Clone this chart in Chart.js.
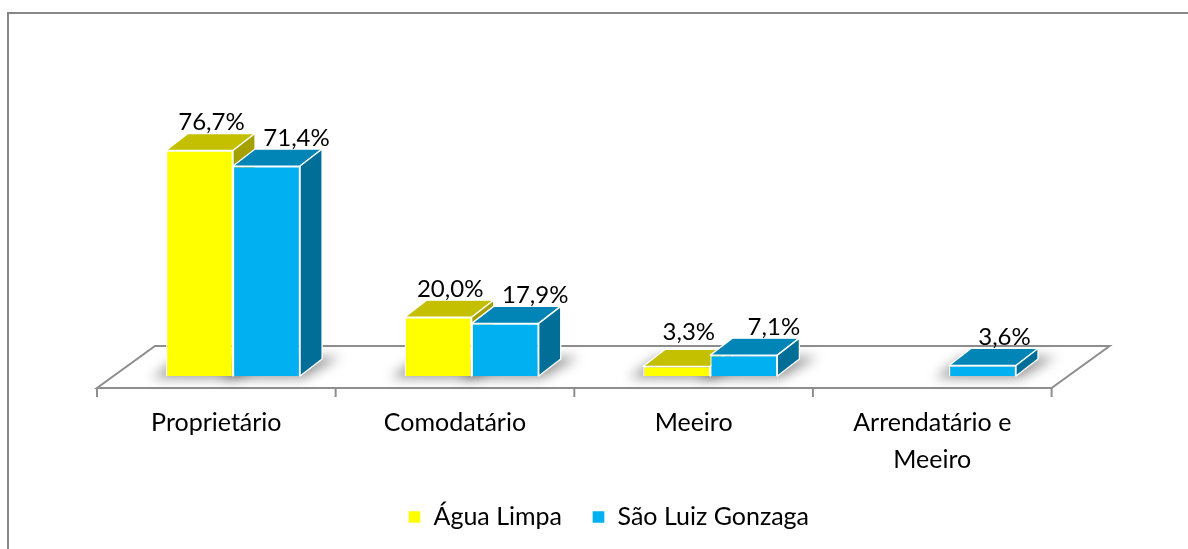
<!DOCTYPE html>
<html><head><meta charset="utf-8">
<script src="https://cdn.jsdelivr.net/npm/chart.js@4"></script>
<style>html,body{margin:0;padding:0;background:#fff;overflow:hidden}canvas{display:block}</style>
</head><body>
<canvas id="c" width="1188" height="549"></canvas>
<script>
const categories = ['Proprietário', 'Comodatário', 'Meeiro', ['Arrendatário e', 'Meeiro']];
const seriesNames = ['Água Limpa', 'São Luiz Gonzaga'];
const aguaLimpa = [76.7, 20.0, 3.3, null];
const saoLuiz = [71.4, 17.9, 7.1, 3.6];
const yMin = 0, yMax = 100;

const FONT = 'Lato';
const frontColors = ['#FFFF00', '#00B0F0'];
const topColors = ['#C4C000', '#0085B6'];
const sideColors = ['#A3A000', '#006E97'];
const DX = 22, DY = -17;          // bar depth
const FDX = 58, FDY = -42;        // floor depth
const FOFF_X = -16.7, FOFF_Y = 12; // floor front relative to bar plane

function fmt(v){ return v.toFixed(1).replace('.', ',') + '%'; }

const threeD = {
  id: 'threeD',
  beforeDraw(chart){
    const ctx = chart.ctx, a = chart.chartArea;
    ctx.save();
    ctx.fillStyle = '#fff'; ctx.fillRect(0,0,chart.width,chart.height);
    ctx.strokeStyle = '#878787'; ctx.lineWidth = 2;
    ctx.strokeRect(8, 13, 1300, 700);
    const fl = a.left + FOFF_X, fr = a.right + FOFF_X, fy = a.bottom + FOFF_Y;
    ctx.strokeStyle = '#8e8e8e'; ctx.lineWidth = 2;
    ctx.beginPath();
    ctx.moveTo(fl, fy); ctx.lineTo(fr, fy); ctx.lineTo(fr + FDX, fy + FDY); ctx.lineTo(fl + FDX, fy + FDY); ctx.closePath();
    ctx.stroke();
    const n = categories.length;
    for (let i = 0; i <= n; i++) {
      const x = fl + (fr - fl) * i / n;
      ctx.beginPath(); ctx.moveTo(x, fy); ctx.lineTo(x, fy + 9); ctx.stroke();
    }
    ctx.restore();
  },
  beforeDatasetsDraw(chart){
    const ctx = chart.ctx;
    ctx.save();
    ctx.filter = 'blur(6px)';
    ctx.fillStyle = 'rgba(0,0,0,0.40)';
    chart.data.datasets.forEach((ds, di) => {
      chart.getDatasetMeta(di).data.forEach((el, i) => {
        if (ds.data[i] == null) return;
        const p = el.getProps(['x','y','base','width'], true);
        const l = p.x - p.width/2, r = p.x + p.width/2, b = p.base;
        ctx.beginPath();
        ctx.moveTo(l - 14, b + 2); ctx.lineTo(r + 4, b + 2);
        ctx.lineTo(r + DX + 18, b + DY - 2); ctx.lineTo(l + DX - 8, b + DY - 2);
        ctx.closePath(); ctx.fill();
      });
    });
    ctx.filter = 'none';
    ctx.strokeStyle = '#ffffff'; ctx.lineWidth = 1.3; ctx.lineJoin = 'round';
    chart.data.datasets.forEach((ds, di) => {
      chart.getDatasetMeta(di).data.forEach((el, i) => {
        if (ds.data[i] == null) return;
        const p = el.getProps(['x','y','base','width'], true);
        const l = p.x - p.width/2, r = p.x + p.width/2, t = p.y, b = p.base;
        ctx.fillStyle = topColors[di];
        ctx.beginPath();
        ctx.moveTo(l, t); ctx.lineTo(r, t); ctx.lineTo(r + DX, t + DY); ctx.lineTo(l + DX, t + DY); ctx.closePath();
        ctx.fill(); ctx.stroke();
        ctx.fillStyle = sideColors[di];
        ctx.beginPath();
        ctx.moveTo(r, t); ctx.lineTo(r + DX, t + DY); ctx.lineTo(r + DX, b + DY); ctx.lineTo(r, b); ctx.closePath();
        ctx.fill(); ctx.stroke();
      });
    });
    ctx.restore();
  },
  afterDatasetsDraw(chart){
    const ctx = chart.ctx;
    ctx.save();
    ctx.font = '24px ' + FONT;
    ctx.fillStyle = '#000';
    ctx.textAlign = 'center'; ctx.textBaseline = 'bottom';
    const sets = chart.data.datasets;
    const m0 = chart.getDatasetMeta(0).data, m1 = chart.getDatasetMeta(1).data;
    sets.forEach((ds, di) => {
      chart.getDatasetMeta(di).data.forEach((el, i) => {
        const v = ds.data[i];
        if (v == null) return;
        const pair = sets.every(s => s.data[i] != null);
        const off = pair ? (di === 0 ? 12 : 30) : DX;
        const p = el.getProps(['x','y'], true);
        let y = p.y + DY + 1;
        if (pair && di === 0) {
          const other = m1[i].getProps(['y'], true).y + DY + 1;
          y = Math.min(y, other + 5);
        }
        ctx.fillText(fmt(v), p.x + off, y);
      });
    });
    ctx.restore();
  }
};

function build(){
  new Chart(document.getElementById('c'), {
    type: 'bar',
    data: {
      labels: categories,
      datasets: [
        { label: seriesNames[0], data: aguaLimpa, backgroundColor: frontColors[0], borderColor: '#ffffff', borderWidth: 1.3, categoryPercentage: 0.562, barPercentage: 1 },
        { label: seriesNames[1], data: saoLuiz, backgroundColor: frontColors[1], borderColor: '#ffffff', borderWidth: 1.3, categoryPercentage: 0.562, barPercentage: 1 }
      ]
    },
    options: {
      responsive: false, animation: false, devicePixelRatio: 1,
      layout: { padding: { left: 113.7, right: 84.7, top: 82, bottom: 9.5 } },
      plugins: {
        legend: { position: 'bottom', labels: { font: { family: FONT, size: 25 }, color: '#000', boxWidth: 13, boxHeight: 13, padding: 30 } },
        tooltip: { enabled: false }
      },
      scales: {
        x: {
          grid: { display: false, drawTicks: false }, border: { display: false },
          ticks: { font: { family: FONT, size: 25, lineHeight: 1.5 }, color: '#000', padding: 28, labelOffset: -16.7, maxRotation: 0, autoSkip: false },
          afterFit: s => { s.height = 98.5; }
        },
        y: {
          position: 'right', min: yMin, max: yMax,
          grid: { display: false, drawTicks: false }, border: { display: false },
          ticks: { display: false },
          afterFit: s => { s.width = 35; }
        }
      }
    },
    plugins: [threeD]
  });
}
if (document.fonts && document.fonts.load) {
  document.fonts.load('25px ' + FONT).then(build, build);
} else build();
</script>
</body></html>
